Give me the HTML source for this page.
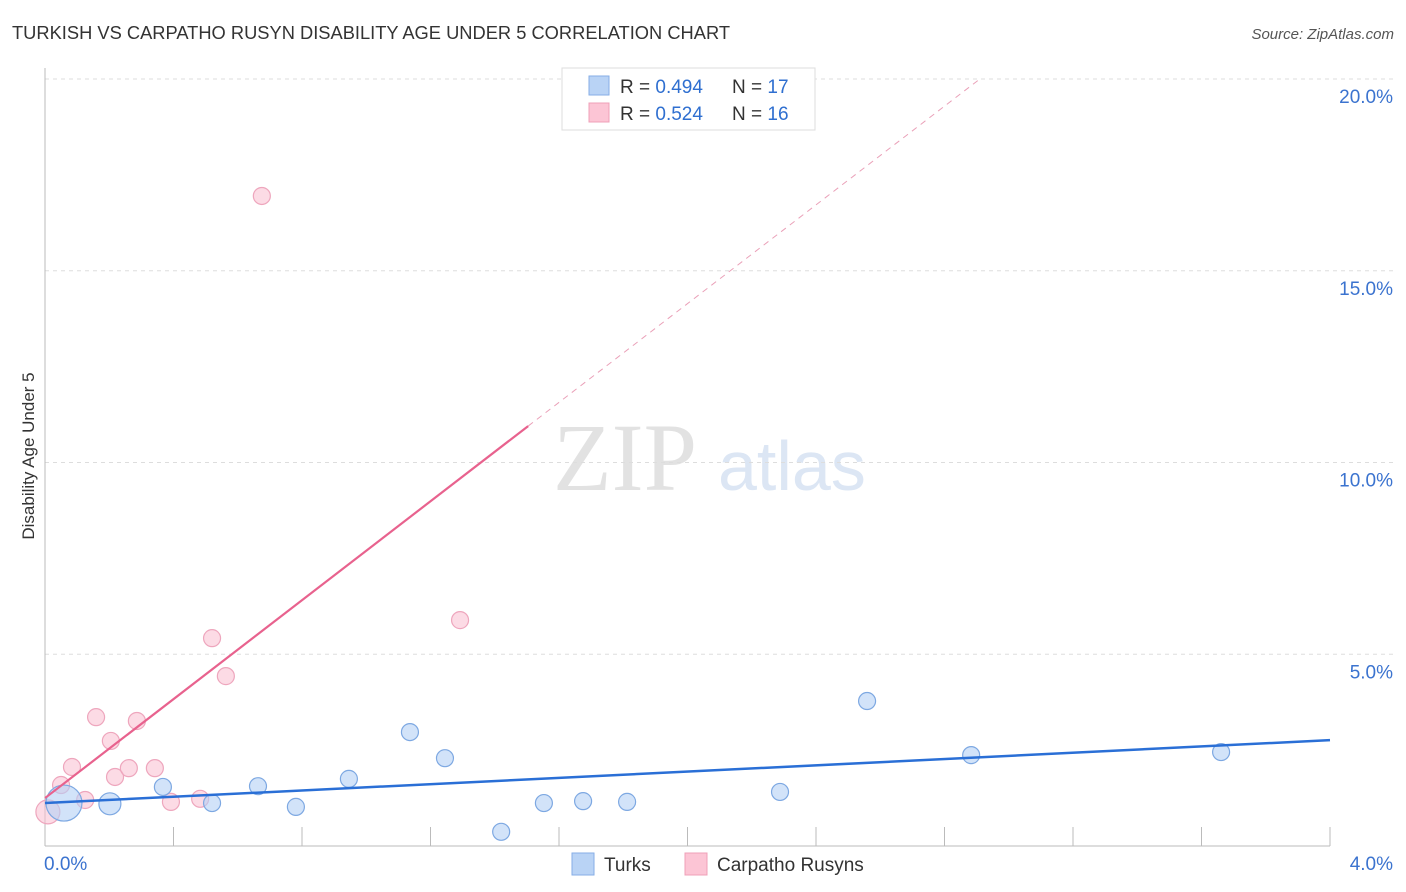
<!DOCTYPE html>
<html><head><meta charset="utf-8"><style>
body{margin:0;background:#fff;font-family:"Liberation Sans",sans-serif}
svg{display:block}
</style></head><body>
<svg id="c" width="1406" height="892" xmlns="http://www.w3.org/2000/svg">
<text x="12" y="39" font-size="18" fill="#333" textLength="718" lengthAdjust="spacingAndGlyphs">TURKISH VS CARPATHO RUSYN DISABILITY AGE UNDER 5 CORRELATION CHART</text>
<text x="1394" y="39" font-size="15" fill="#555" font-style="italic" text-anchor="end">Source: ZipAtlas.com</text>
<g>
<text x="553" y="490" font-size="96" font-family="Liberation Serif,serif" fill="#e2e2e2">ZIP</text>
<text x="718" y="490" font-size="70" fill="#dce6f4">atlas</text>
</g>
<g id="grid"></g>
<g id="axes"></g>
<g id="marks"></g>
<text transform="translate(34,456) rotate(-90)" font-size="17" fill="#333" text-anchor="middle">Disability Age Under 5</text>
<g>
<rect x="562" y="68" width="253" height="62" fill="#fff" stroke="#ddd"/>
<rect x="589" y="76" width="20" height="19" fill="#b9d3f5" stroke="#86aee6"/>
<rect x="589" y="103" width="20" height="19" fill="#fcc5d5" stroke="#efa0b8"/>
<text x="620" y="93" font-size="19" fill="#333">R = <tspan fill="#2f6fd0">0.494</tspan></text>
<text x="732" y="93" font-size="19" fill="#333">N = <tspan fill="#2f6fd0">17</tspan></text>
<text x="620" y="120" font-size="19" fill="#333">R = <tspan fill="#2f6fd0">0.524</tspan></text>
<text x="732" y="120" font-size="19" fill="#333">N = <tspan fill="#2f6fd0">16</tspan></text>
</g>
<g>
<rect x="572" y="853" width="22" height="22" fill="#b9d3f5" stroke="#86aee6"/>
<text x="604" y="871" font-size="19" fill="#333">Turks</text>
<rect x="685" y="853" width="22" height="22" fill="#fcc5d5" stroke="#efa0b8"/>
<text x="717" y="871" font-size="19" fill="#333">Carpatho Rusyns</text>
</g>
</svg>
<script>
const yTicks=[5,10,15,20];
const yTickLabels=["5.0%","10.0%","15.0%","20.0%"];
const xTickVals=[0.4,0.8,1.2,1.6,2.0,2.4,2.8,3.2,3.6,4.0];
const turksX=[0.059,0.202,0.367,0.520,0.663,0.781,0.946,1.136,1.245,1.420,1.553,1.675,1.812,2.288,2.559,2.883,3.661];
const turksY=[1.12,1.10,1.54,1.12,1.56,1.02,1.75,2.97,2.29,0.37,1.12,1.17,1.15,1.41,3.78,2.37,2.45];
const rusynX=[0.009,0.050,0.084,0.125,0.159,0.205,0.218,0.261,0.286,0.342,0.392,0.483,0.520,0.563,0.675,1.292];
const rusynY=[0.89,1.59,2.06,1.20,3.36,2.74,1.80,2.03,3.26,2.03,1.15,1.23,5.42,4.43,16.95,5.89];
const turksTrend=[[0,1.12],[4.0,2.76]];
const rusynTrend=[[0,1.25],[1.504,10.95]];
const rusynTrendExt=[[1.504,10.95],[2.91,20.0]];
const NS="http://www.w3.org/2000/svg";
const X=v=>45+v/4*1285, Y=v=>846-v*38.35;
function mk(tag,attrs,parent){const e=document.createElementNS(NS,tag);for(const k in attrs)e.setAttribute(k,attrs[k]);parent.appendChild(e);return e;}
const grid=document.getElementById('grid'),axes=document.getElementById('axes'),marks=document.getElementById('marks');
yTicks.forEach((t,i)=>{
 const l=mk('line',{x1:45,x2:1395,y1:Y(t),y2:Y(t),stroke:'#ddd','stroke-dasharray':'4,4'},grid);
 
 
 const tx=mk('text',{x:1393,y:Y(t)+24,'font-size':19,fill:'#3b73cf','text-anchor':'end'},axes);
 tx.textContent=yTickLabels[i];
 
 
});
let a=mk('line',{x1:45,x2:45,y1:68,y2:846,stroke:'#bbb'},axes);


a=mk('line',{x1:45,x2:1330,y1:846,y2:846,stroke:'#bbb'},axes);


xTickVals.forEach(t=>{
 const l=mk('line',{x1:X(t),x2:X(t),y1:827,y2:846,stroke:'#bbb'},axes);
 
 
});
let t0=mk('text',{x:44,y:870,'font-size':19,fill:'#3b73cf'},axes);t0.textContent='0.0%';


let t1=mk('text',{x:1393,y:870,'font-size':19,fill:'#3b73cf','text-anchor':'end'},axes);t1.textContent='4.0%';


rusynX.forEach((x,i)=>{
 const c=mk('circle',{cx:X(x),cy:Y(rusynY[i]),r:i==0?12:8.5,fill:'rgba(250,190,208,0.55)',stroke:'#eea6bd','stroke-width':1.2},marks);
 
 
});
turksX.forEach((x,i)=>{
 const c=mk('circle',{cx:X(x),cy:Y(turksY[i]),r:i==0?18:(i==1?11:8.5),fill:'rgba(180,208,245,0.6)',stroke:'#7da8e2','stroke-width':1.2},marks);
 
 
});
let tl=mk('line',{x1:X(rusynTrendExt[0][0]),y1:Y(rusynTrendExt[0][1]),x2:X(rusynTrendExt[1][0]),y2:Y(rusynTrendExt[1][1]),stroke:'#eaa0b8','stroke-dasharray':'6,5','stroke-width':1},marks);


tl=mk('line',{x1:X(rusynTrend[0][0]),y1:Y(rusynTrend[0][1]),x2:X(rusynTrend[1][0]),y2:Y(rusynTrend[1][1]),stroke:'#e8628e','stroke-width':2.2},marks);


tl=mk('line',{x1:X(turksTrend[0][0]),y1:Y(turksTrend[0][1]),x2:X(turksTrend[1][0]),y2:Y(turksTrend[1][1]),stroke:'#2a6fd6','stroke-width':2.5},marks);


</script>
</body></html>
